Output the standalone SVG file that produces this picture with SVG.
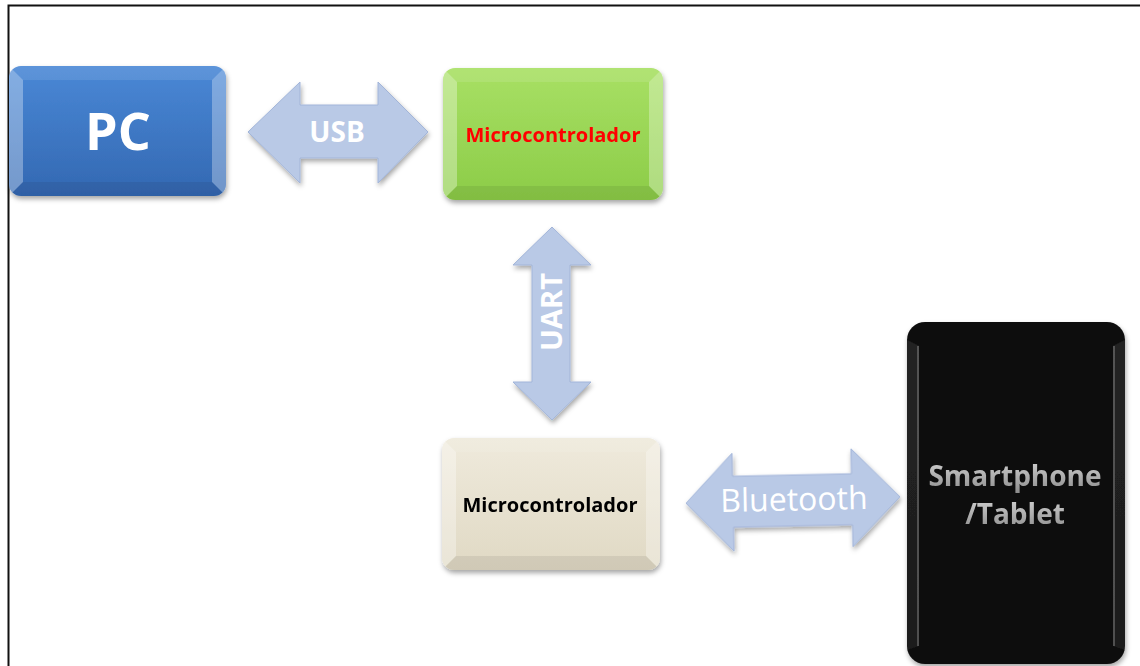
<svg xmlns="http://www.w3.org/2000/svg" width="1140" height="666" viewBox="0 0 1140 666">
<defs>
<style>
.lbl{font-family:"Open Sans",Lato,"Liberation Sans",sans-serif;font-weight:bold;text-anchor:middle;dominant-baseline:central}
.arrow{fill:#b9c9e6;stroke:#a2b5d9;stroke-width:1;filter:url(#sh)}
.bl{fill:#fff;opacity:.32}
.bt{fill:#fff;opacity:.1}
.br{fill:#fff;opacity:.3}
.bb{fill:#000;opacity:.07}
</style>
<filter id="sh" x="-10%" y="-10%" width="130%" height="130%">
<feDropShadow dx="1" dy="3" stdDeviation="2.5" flood-color="#000" flood-opacity=".35"/>
</filter>
<linearGradient id="gBlue" x1="0" y1="0" x2="0" y2="1"><stop offset="0" stop-color="#4a88d6"/><stop offset="1" stop-color="#3368b2"/></linearGradient>
<linearGradient id="gGreen" x1="0" y1="0" x2="0" y2="1"><stop offset="0" stop-color="#a8e064"/><stop offset="1" stop-color="#8ccc48"/></linearGradient>
<linearGradient id="gBeige" x1="0" y1="0" x2="0" y2="1"><stop offset="0" stop-color="#efeadc"/><stop offset="1" stop-color="#e0d9c4"/></linearGradient>
<linearGradient id="gBlack" x1="0" y1="0" x2="0" y2="1"><stop offset="0" stop-color="#111"/><stop offset="1" stop-color="#0a0a0a"/></linearGradient>
<linearGradient id="gText" x1="0" y1="0" x2="0" y2="1"><stop offset="0" stop-color="#d8d8d8"/><stop offset="1" stop-color="#8a8a8a"/></linearGradient>
<clipPath id="cPC"><rect x="9" y="66" width="217" height="130" rx="12"/></clipPath>
<clipPath id="cG"><rect x="443" y="68" width="220" height="132" rx="12"/></clipPath>
<clipPath id="cB"><rect x="442" y="438" width="218" height="132" rx="12"/></clipPath>
<clipPath id="cK"><rect x="907" y="322" width="218" height="342" rx="18"/></clipPath>
</defs>
<rect x="0" y="0" width="1140" height="666" fill="#fff"/>
<path d="M8.5 666 V5.5 H1140" fill="none" stroke="#111" stroke-width="2"/>

<g id="connectors">
<g id="usb">
<polygon class="arrow" points="248,132 300,82 300,105 378,105 378,82 428,132 378,183 378,158 300,158 300,183"/>
<text class="lbl" x="337" y="131" font-size="28" fill="#fff">USB</text>
</g>
<g id="uart">
<polygon class="arrow" points="552,227 591,265 570,265 570,382 591,382 552,420 513,382 532,382 532,265 513,265"/>
<text class="lbl" x="0" y="0" font-size="29" fill="#fff" transform="translate(550,312) rotate(-90)">UART</text>
</g>
<g id="bluetooth" transform="rotate(-1.2 793 500)">
<polygon class="arrow" points="686,501 733,452 733,475 852,475 852,450 900,499 852,548 852,526 733,526 733,550"/>
<text x="794" y="498" font-family="'Open Sans',Lato,'Liberation Sans',sans-serif" font-size="32" fill="#fff" text-anchor="middle" dominant-baseline="central">Bluetooth</text>
</g>
</g>

<g id="pc" filter="url(#sh)">
<rect x="9" y="66" width="217" height="130" rx="12" fill="url(#gBlue)"/>
<g clip-path="url(#cPC)">
<polygon class="bt" points="9,66 226,66 212,80 23,80"/>
<polygon class="bl" points="9,66 23,80 23,182 9,196"/>
<polygon class="br" points="226,66 226,196 212,182 212,80"/>
<polygon class="bb" points="9,196 23,182 212,182 226,196"/>
</g>
<text class="lbl" x="118" y="129" font-size="52" fill="#fff">PC</text>
</g>

<g id="micro1" filter="url(#sh)">
<rect x="443" y="68" width="220" height="132" rx="12" fill="url(#gGreen)"/>
<g clip-path="url(#cG)">
<polygon class="bt" points="443,68 663,68 649,82 457,82"/>
<polygon class="bl" points="443,68 457,82 457,186 443,200"/>
<polygon class="br" points="663,68 663,200 649,186 649,82"/>
<polygon class="bb" points="443,200 457,186 649,186 663,200"/>
</g>
<text class="lbl" x="553" y="134" font-size="20" fill="#f00">Microcontrolador</text>
</g>

<g id="micro2" filter="url(#sh)">
<rect x="442" y="438" width="218" height="132" rx="12" fill="url(#gBeige)"/>
<g clip-path="url(#cB)">
<polygon class="bt" points="442,438 660,438 646,452 456,452"/>
<polygon class="bl" points="442,438 456,452 456,556 442,570"/>
<polygon class="br" points="660,438 660,570 646,556 646,452"/>
<polygon class="bb" points="442,570 456,556 646,556 660,570"/>
</g>
<text class="lbl" x="550" y="504" font-size="20" fill="#000">Microcontrolador</text>
</g>

<g id="smartphone" filter="url(#sh)">
<rect x="907" y="322" width="218" height="342" rx="18" fill="url(#gBlack)"/>
<g clip-path="url(#cK)">
<polygon fill="#fff" opacity=".08" points="907,340 919,346 919,646 907,650"/>
<polygon fill="#fff" opacity=".08" points="1125,340 1125,650 1113,646 1113,346"/>
<line x1="918" y1="346" x2="918" y2="646" stroke="#fff" stroke-opacity=".3" stroke-width="1.5"/>
<line x1="1114" y1="346" x2="1114" y2="646" stroke="#fff" stroke-opacity=".3" stroke-width="1.5"/>
</g>
<text class="lbl" x="1015" y="475" font-size="28" fill="url(#gText)">Smartphone</text>
<text class="lbl" x="1015" y="513" font-size="28" fill="url(#gText)">/Tablet</text>
</g>
</svg>
